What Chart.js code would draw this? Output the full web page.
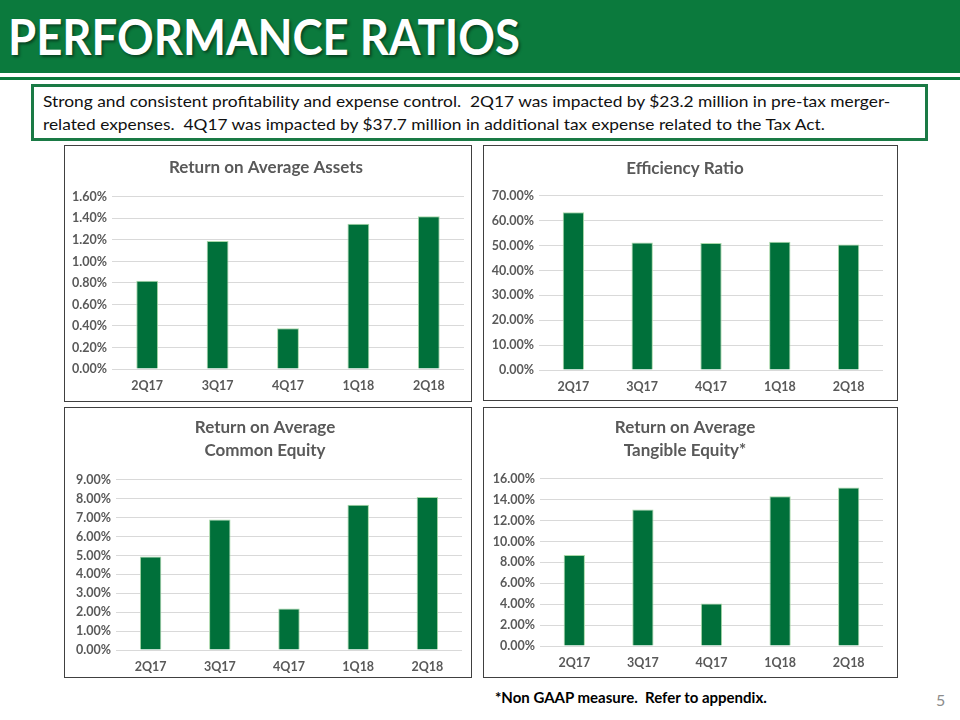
<!DOCTYPE html>
<html>
<head>
<meta charset="utf-8">
<script src="https://cdn.jsdelivr.net/npm/chart.js@4.4.0/dist/chart.umd.min.js"></script>
<style>
  body { margin: 0; width: 960px; height: 720px; position: relative; background: #fff; font-family: Lato, "Open Sans", sans-serif; overflow: hidden; }
  #band { position: absolute; left: 0; top: 0; width: 960px; height: 73px; background: #0b7a3d; }
  #line { position: absolute; left: 0; top: 77px; width: 960px; height: 3px; background: #0b7a3d; }
  #title { position: absolute; left: 8px; top: 6px; color: #fff; font-weight: bold; font-size: 50px; white-space: nowrap; transform-origin: 0 0; text-shadow: 2px 2px 3px rgba(0,0,0,0.45); }
  #note { position: absolute; left: 31px; top: 84px; width: 897px; height: 57px; box-sizing: border-box; border: 3px solid #1a7a45; }
  .nl { position: absolute; left: 9px; font-size: 16px; color: #111; white-space: nowrap; transform-origin: 0 0; }
  .panel { position: absolute; }
  .panel canvas { position: absolute; left: 0; top: 0; }
  .frame { position: absolute; left: 0; top: 0; right: 0; bottom: 0; border: 1.5px solid #404040; pointer-events: none; }
  #foot { position: absolute; left: 495px; top: 688px; font-size: 15px; font-weight: bold; color: #000; white-space: nowrap; }
  #pg { position: absolute; left: 936px; top: 690px; font-size: 16px; color: #8c8c8c; }
</style>
</head>
<body>
<div id="band"></div>
<div id="line"></div>
<div id="title">PERFORMANCE RATIOS</div>
<div id="note">
  <div class="nl" id="n1" style="top:4px">Strong and consistent profitability and expense control.&nbsp; 2Q17 was impacted by $23.2 million in pre-tax merger-</div>
  <div class="nl" id="n2" style="top:27px">related expenses.&nbsp; 4Q17 was impacted by $37.7 million in additional tax expense related to the Tax Act.</div>
</div>

<div class="panel" style="left:64px;top:145px;width:408px;height:257px"><canvas id="c1" width="408" height="257"></canvas><div class="frame"></div></div>
<div class="panel" style="left:483px;top:145px;width:415px;height:256px"><canvas id="c2" width="415" height="256"></canvas><div class="frame"></div></div>
<div class="panel" style="left:64px;top:407px;width:408px;height:271px"><canvas id="c3" width="408" height="271"></canvas><div class="frame"></div></div>
<div class="panel" style="left:483px;top:407px;width:415px;height:271px"><canvas id="c4" width="415" height="271"></canvas><div class="frame"></div></div>

<div id="foot">*Non GAAP measure.&nbsp; Refer to appendix.</div>
<div id="pg">5</div>

<script>
// quarters and ratio values (percent)
let qtrs = ['2Q17', '3Q17', '4Q17', '1Q18', '2Q18'];
let roaa = [0.82, 1.19, 0.38, 1.35, 1.42];
let effRatio = [63.4, 51.3, 51.1, 51.6, 50.5];
let roace = [4.95, 6.90, 2.20, 7.68, 8.10];
let roate = [8.72, 13.06, 4.07, 14.33, 15.18];

// fit header text widths to the slide
function fitW(id, w) {
    let el = document.getElementById(id);
    el.style.transform = 'scaleX(' + (w / el.offsetWidth) + ')';
}
fitW('title', 512);
fitW('n1', 847);
fitW('n2', 782);

let gray = '#595959';
let tickFont = { family: 'Lato', size: 12.5, weight: 'bold' };

function makeChart(id, title, vals, max, step, opt) {
    let ctx = document.getElementById(id).getContext('2d');
    return new Chart(ctx, {
        type: 'bar',
        data: {
            labels: qtrs,
            datasets: [{
                data: vals,
                backgroundColor: '#00703a',
                borderColor: '#a8d8a8',
                borderWidth: 1,
                categoryPercentage: 1,
                barPercentage: 0.31
            }]
        },
        options: {
            responsive: false,
            animation: false,
            layout: { padding: { left: 4, right: opt.right, top: 0, bottom: 0 } },
            plugins: {
                legend: { display: false },
                tooltip: { enabled: false },
                title: {
                    display: true,
                    text: title,
                    color: gray,
                    font: { family: 'Lato', size: 17, weight: 'bold', lineHeight: 1.35 },
                    padding: { top: opt.tTop, bottom: opt.tBot }
                }
            },
            scales: {
                x: {
                    grid: { display: false, drawTicks: false },
                    border: { display: false },
                    ticks: { color: gray, padding: 9, font: tickFont },
                    afterFit: s => { s.height = opt.xh; }
                },
                y: {
                    min: 0, max: max,
                    grid: { color: '#d9d9d9', lineWidth: 1, drawTicks: false },
                    border: { display: false },
                    ticks: {
                        stepSize: step,
                        color: gray,
                        padding: 5,
                        font: tickFont,
                        callback: v => v.toFixed(2) + '%'
                    },
                    afterFit: s => { s.width = opt.yw; }
                }
            }
        }
    });
}

makeChart('c1', 'Return on Average Assets', roaa, 1.6, 0.2, { right: 8, yw: 44, tTop: 11.5, tBot: 17.5, xh: 33 });
makeChart('c2', 'Efficiency Ratio', effRatio, 70, 10, { right: 15, yw: 52, tTop: 12.5, tBot: 15.5, xh: 31 });
makeChart('c3', ['Return on Average', 'Common Equity'], roace, 9, 1, { right: 10, yw: 48, tTop: 9.5, tBot: 17.5, xh: 28 });
makeChart('c4', ['Return on Average', 'Tangible Equity*'], roate, 16, 2, { right: 15, yw: 53, tTop: 9.5, tBot: 16.5, xh: 32 });
</script>
</body>
</html>
